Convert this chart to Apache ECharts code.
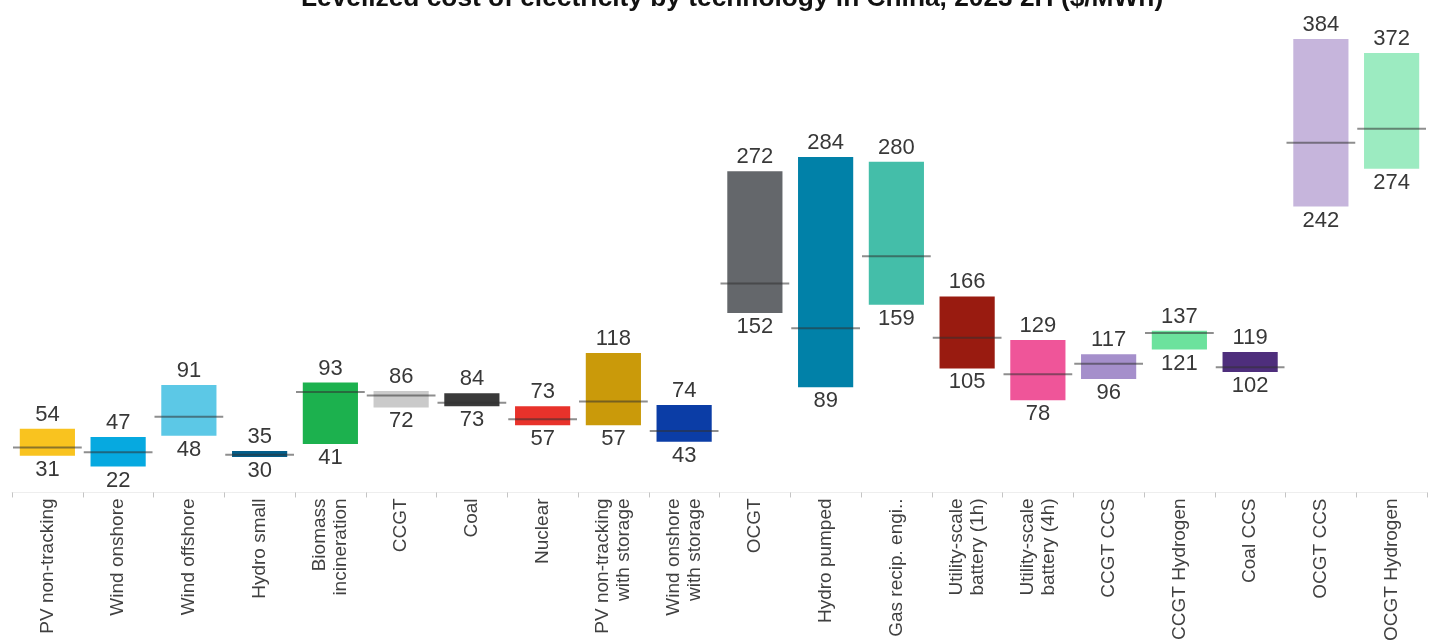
<!DOCTYPE html>
<html>
<head>
<meta charset="utf-8">
<title>Levelized cost of electricity by technology in China</title>
<script src="https://cdn.jsdelivr.net/npm/echarts@6/dist/echarts.min.js"></script>
<style>
  html, body { margin: 0; padding: 0; background: #ffffff; }
  #chart { width: 1432px; height: 644px; }
</style>
</head>
<body>
<div id="chart"></div>
<script>
// Technologies along the x axis
const categories = [
  'PV non-tracking', 'Wind onshore', 'Wind offshore', 'Hydro small',
  'Biomass\nincineration', 'CCGT', 'Coal', 'Nuclear',
  'PV non-tracking\nwith storage', 'Wind onshore\nwith storage',
  'OCGT', 'Hydro pumped', 'Gas recip. engi..',
  'Utility-scale\nbattery (1h)', 'Utility-scale\nbattery (4h)',
  'CCGT CCS', 'CCGT Hydrogen', 'Coal CCS', 'OCGT CCS', 'OCGT Hydrogen'
];

// LCOE range per technology ($/MWh)
const lowValues  = [31, 22, 48, 30, 41, 72, 73, 57, 57, 43, 152, 89, 159, 105, 78, 96, 121, 102, 242, 274];
const highValues = [54, 47, 91, 35, 93, 86, 84, 73, 118, 74, 272, 284, 280, 166, 129, 117, 137, 119, 384, 372];
// Central estimate marked by the horizontal line
const midValues  = [38, 34, 64, 32, 85, 82, 76, 62, 77, 52, 177, 139, 200, 131, 100, 109, 135, 106, 296, 308];

const barColors = [
  '#F9C31F', '#06A9E0', '#5CC8E6', '#045E8A', '#1CB14E', '#CACACA', '#3A3A3A', '#E8322B',
  '#CA9A0A', '#0B3DA6', '#64676B', '#0181A8', '#44BEA9', '#991B10', '#EF5599',
  '#A58FCB', '#6CE29D', '#4E2E7C', '#C6B5DC', '#9CEBC1'
];

const seriesData = categories.map((c, i) => [i, lowValues[i], highValues[i], midValues[i]]);

const labelFont = '22px "Liberation Sans", Arial, sans-serif';
const labelColor = '#383838';

function renderItem(params, api) {
  const i = api.value(0);
  const lo = api.coord([i, api.value(1)]);
  const hi = api.coord([i, api.value(2)]);
  const md = api.coord([i, api.value(3)]);
  const band = api.size([1, 0])[0];
  const bw = band * 0.78;
  const x = lo[0];
  return {
    type: 'group',
    children: [
      {
        type: 'rect',
        shape: { x: x - bw / 2, y: hi[1], width: bw, height: lo[1] - hi[1] },
        style: { fill: barColors[i] }
      },
      {
        type: 'line',
        shape: { x1: x - band / 2 + 1, y1: md[1], x2: x + band / 2 - 1, y2: md[1] },
        style: { stroke: 'rgba(50,50,50,0.55)', lineWidth: 2 }
      },
      {
        type: 'text',
        x: x, y: hi[1] - 3,
        style: {
          text: String(api.value(2)), font: labelFont, fill: labelColor,
          align: 'center', verticalAlign: 'bottom',
          textAlign: 'center', textVerticalAlign: 'bottom'
        }
      },
      {
        type: 'text',
        x: x, y: lo[1] + 3,
        style: {
          text: String(api.value(1)), font: labelFont, fill: labelColor,
          align: 'center', verticalAlign: 'top',
          textAlign: 'center', textVerticalAlign: 'top'
        }
      }
    ]
  };
}

const chart = echarts.init(document.getElementById('chart'), null, { renderer: 'canvas' });
chart.setOption({
  animation: false,
  backgroundColor: '#ffffff',
  title: {
    text: 'Levelized cost of electricity by technology in China, 2023 2H ($/MWh)',
    left: 296,
    top: -19,
    textStyle: {
      fontFamily: '"Liberation Sans", Arial, sans-serif',
      fontSize: 26.3,
      fontWeight: 'bold',
      color: '#111111'
    }
  },
  grid: { left: 12, right: 5, top: 20, bottom: 151, containLabel: false },
  xAxis: {
    type: 'category',
    data: categories,
    axisLine: { show: true, lineStyle: { color: '#eeeeee', width: 1 } },
    axisTick: { show: true, length: 5, lineStyle: { color: '#c4c4c4' } },
    axisLabel: {
      rotate: 90,
      interval: 0,
      margin: 6,
      fontFamily: '"Liberation Sans", Arial, sans-serif',
      fontSize: 19,
      lineHeight: 21,
      color: '#404040'
    }
  },
  yAxis: {
    type: 'value',
    min: 0,
    max: 400,
    show: false
  },
  series: [{
    type: 'custom',
    renderItem: renderItem,
    encode: { x: 0, y: [1, 2, 3] },
    data: seriesData
  }]
});
</script>
</body>
</html>
